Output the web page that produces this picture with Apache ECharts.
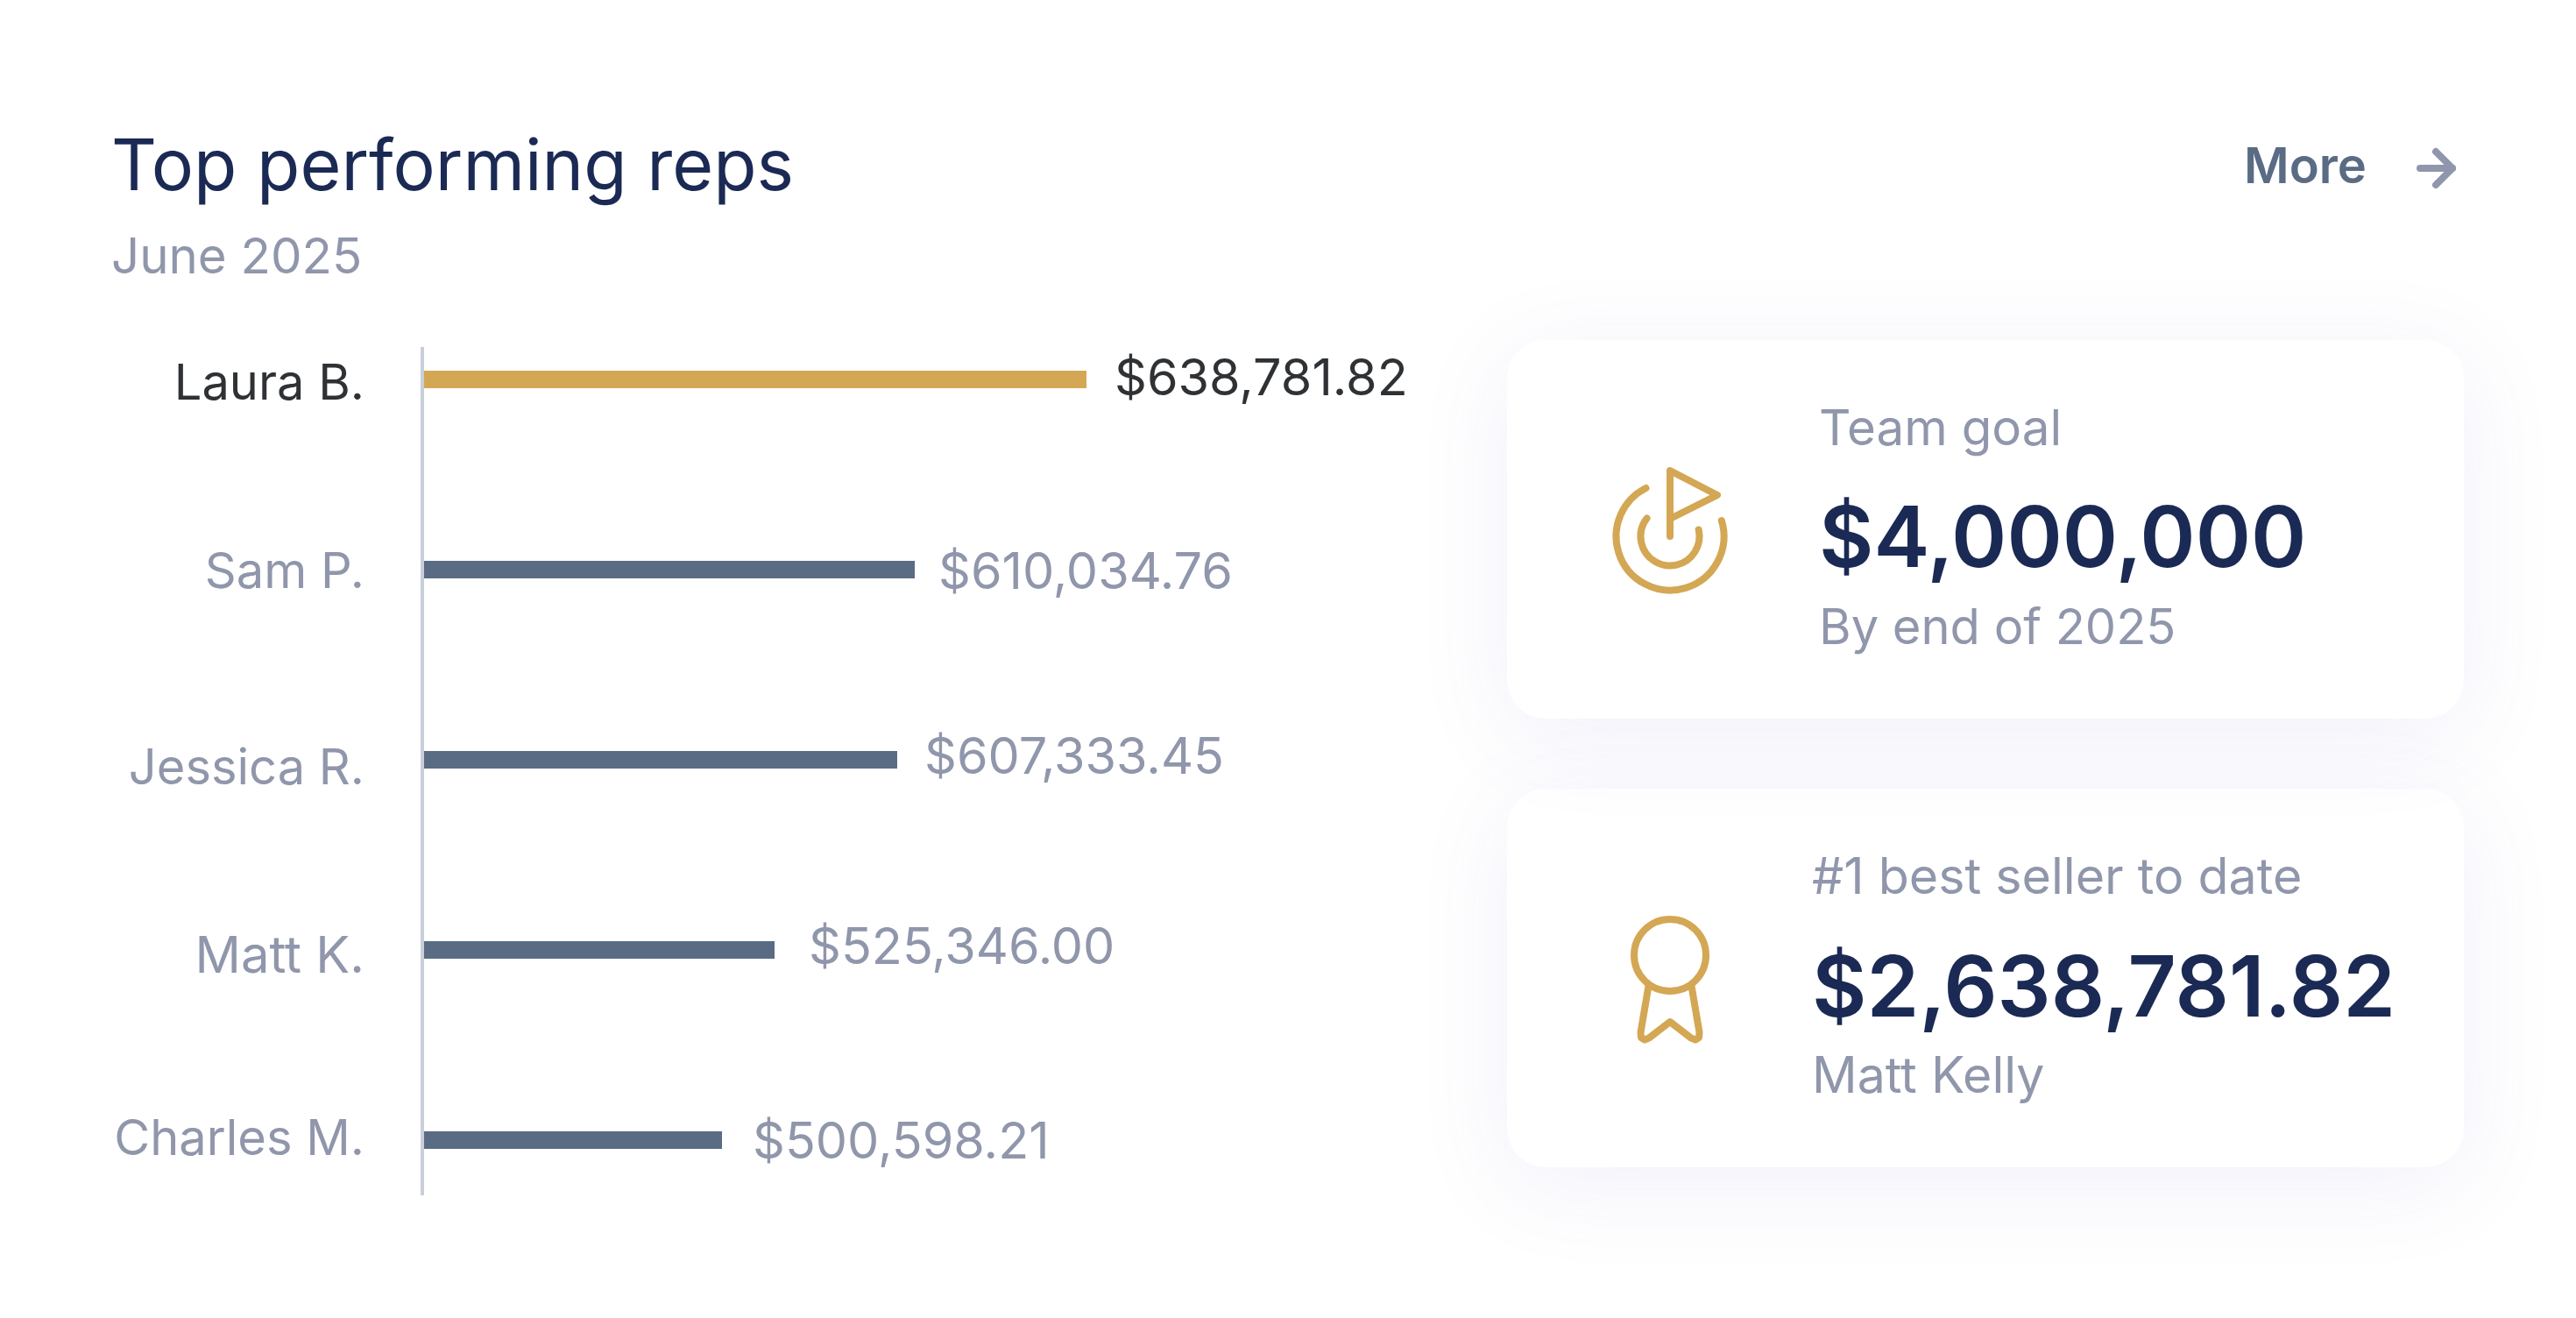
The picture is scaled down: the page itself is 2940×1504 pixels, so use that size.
<!DOCTYPE html>
<html>
<head>
<meta charset="utf-8">
<title>Top performing reps</title>
<style>
html, body { margin: 0; padding: 0; background: #fff; }
#main { width: 2940px; height: 1504px; }
</style>
<script src="https://cdn.jsdelivr.net/npm/echarts@6/dist/echarts.min.js"></script>
</head>
<body>
<div id="main"></div>
<script>
// 数据
var reps = ['Laura B.', 'Sam P.', 'Jessica R.', 'Matt K.', 'Charles M.'];
// bar lengths: in the source they don't follow the printed amounts
var barLengths = [756, 560, 540, 400, 340];
var amounts = ['$638,781.82', '$610,034.76', '$607,333.45', '$525,346.00', '$500,598.21'];

var gold = '#D4A754';
var slate = '#5A6B84';
var navy = '#1B2A54';
var grey = '#9096AB';
var ink = '#2F3235';
var font = 'Inter';

var chart = echarts.init(document.getElementById('main'));

// label tweaks per row, the source isn't regular
var amountGap = [32, 27, 31, 39, 35];
var amountDy = [1, 5, -1, -1, 4];
var nameDy = [6, 4, 11, 9, 0];
var nameSize = [56, 56, 56, 58, 56];

// rich styles for the axis names, one per row so each can sit a bit lower
var nameRich = {};
reps.forEach(function (name, i) {
    nameRich['r' + i] = {
        color: i === 0 ? ink : grey,
        fontSize: nameSize[i],
        fontFamily: font,
        padding: [nameDy[i] * 2, 0, 0, 0]
    };
});

function text(str, x, y, size, color, weight) {
    return {
        type: 'text',
        x: x,
        y: y,
        style: {
            text: str,
            fill: color,
            font: (weight || 400) + ' ' + size + 'px ' + font,
            textVerticalAlign: 'middle'
        }
    };
}

function card(y, h) {
    return {
        type: 'rect',
        shape: { x: 1720, y: y, width: 1092, height: h, r: 44 },
        style: {
            fill: '#fff',
            shadowBlur: 110,
            shadowOffsetY: 20,
            shadowColor: 'rgba(90,80,200,0.085)'
        }
    };
}

function stroke(color) {
    return { stroke: color, fill: 'none', lineWidth: 8, lineCap: 'round', lineJoin: 'round' };
}

var rad = Math.PI / 180;

var graphics = [
    // axis rule
    { type: 'rect', shape: { x: 480, y: 396, width: 4, height: 968 }, style: { fill: '#CACDDA' } },
    // More ->
    text('More', 2561, 192, 56, slate, 600),
    { type: 'polyline', shape: { points: [[2762, 192], [2799, 192]] }, style: stroke(grey) },
    { type: 'polyline', shape: { points: [[2780, 173], [2799, 192], [2780, 211]] }, style: stroke(grey) },
    // cards: lower one first, the upper card's shadow falls on it
    card(900, 432),
    card(388, 432),
    // goal icon
    { type: 'arc', shape: { cx: 1906, cy: 612, r: 61.5, startAngle: -17 * rad, endAngle: 243.4 * rad, clockwise: true }, style: stroke(gold) },
    { type: 'arc', shape: { cx: 1906, cy: 612, r: 33.5, startAngle: -13 * rad, endAngle: 218 * rad, clockwise: true }, style: stroke(gold) },
    { type: 'polyline', shape: { points: [[1906, 612], [1906, 537], [1960, 565], [1908, 591]] }, style: stroke(gold) },
    // medal icon
    { type: 'circle', shape: { cx: 1906, cy: 1090, r: 41 }, style: stroke(gold) },
    { type: 'polyline', shape: { points: [[1881.5, 1125], [1872.5, 1178], [1873, 1184], [1877, 1186.5], [1882, 1184.5], [1906, 1166], [1930, 1184.5], [1935, 1186.5], [1939, 1184], [1939.5, 1178], [1930.5, 1125]] }, style: stroke(gold) },
    // card texts
    text('Team goal', 2076, 491, 56.5, grey),
    text('$4,000,000', 2076, 618, 96, navy, 600),
    text('By end of 2025', 2076, 718, 56, grey),
    text('#1 best seller to date', 2068, 1003, 57.3, grey),
    text('$2,638,781.82', 2068, 1131, 96, navy, 600),
    text('Matt Kelly', 2068, 1230, 57.2, grey)
];

var option = {
    animation: false,
    backgroundColor: '#fff',
    textStyle: { fontFamily: font },
    title: {
        text: 'Top performing reps',
        subtext: 'June 2025',
        left: 122,
        top: 147,
        itemGap: 34,
        textStyle: { color: navy, fontSize: 80.6, fontWeight: 400, fontFamily: font },
        subtextStyle: { color: grey, fontSize: 56.4, fontWeight: 400, fontFamily: font }
    },
    grid: { left: 484, top: 433, width: 1000, height: 868 },
    xAxis: { type: 'value', min: 0, max: 1000, show: false },
    yAxis: {
        type: 'category',
        inverse: true,
        boundaryGap: false,
        data: reps,
        axisLine: { show: false },
        axisTick: { show: false },
        splitLine: { show: false },
        axisLabel: {
            margin: 68,
            interval: 0,
            formatter: function (name, i) {
                return '{r' + i + '|' + name + '}';
            },
            rich: nameRich
        }
    },
    series: [{
        type: 'bar',
        barWidth: 20,
        clip: false,
        silent: true,
        data: barLengths.map(function (len, i) {
            return {
                value: len,
                itemStyle: { color: i === 0 ? gold : slate },
                label: {
                    show: true,
                    position: 'right',
                    distance: amountGap[i],
                    offset: [0, amountDy[i]],
                    formatter: amounts[i],
                    fontSize: 57.5,
                    fontFamily: font,
                    color: i === 0 ? ink : grey
                }
            };
        })
    }],
    graphic: { elements: graphics }
};

chart.setOption(option);
</script>
</body>
</html>
